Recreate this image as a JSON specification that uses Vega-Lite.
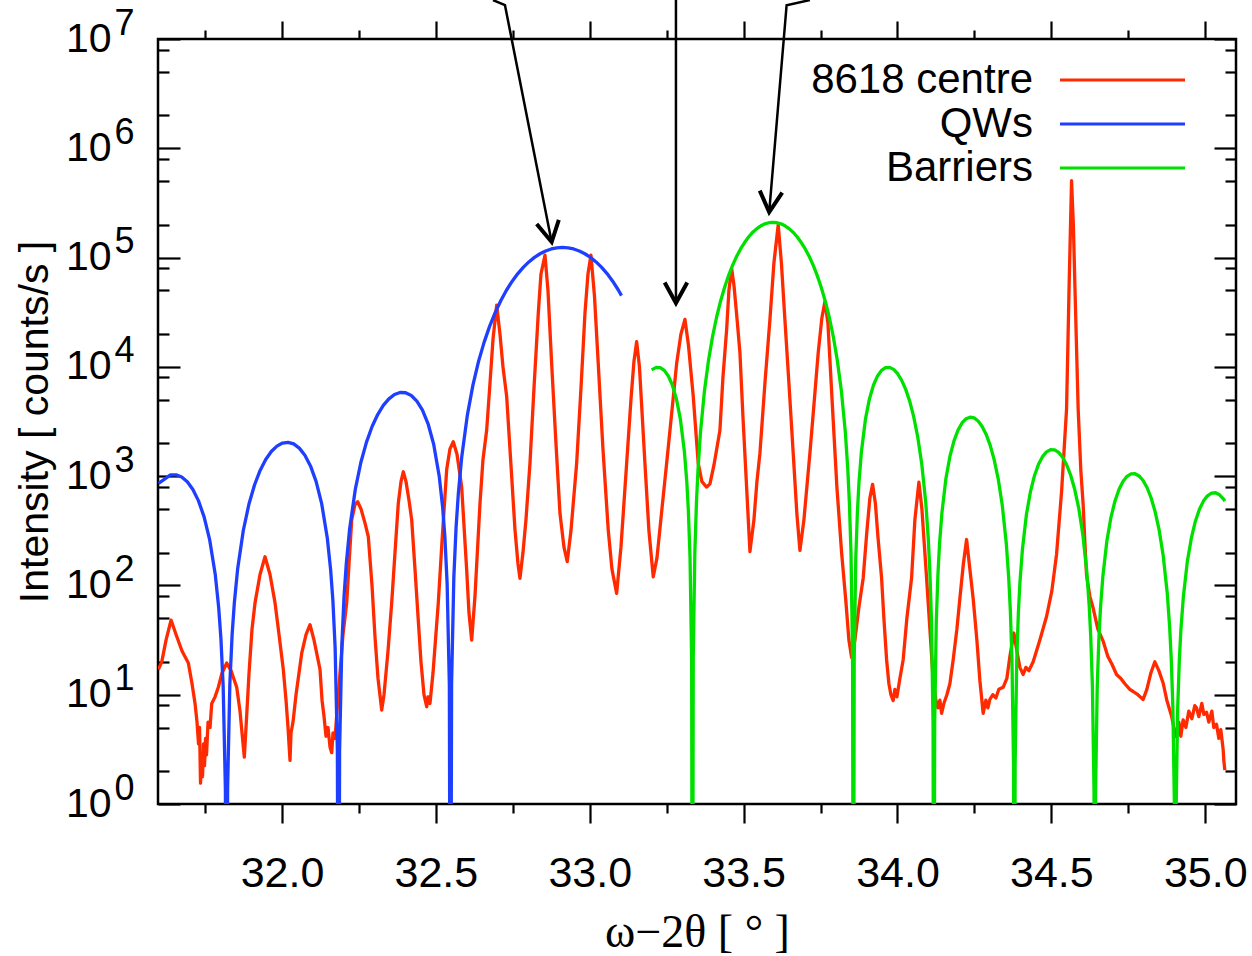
{
"$schema": "https://vega.github.io/schema/vega-lite/v6.json",
"autosize": {"type": "none"},
"width": 1078,
"height": 765,
"padding": {"left": 158, "top": 39, "right": 16, "bottom": 152},
"background": "white",
"datasets": {
"curves": [
{"x":31.598,"y":17.0,"s":"8618 centre"},{"x":31.6092,"y":20.0,"s":"8618 centre"},{"x":31.6231,"y":31.6,"s":"8618 centre"},{"x":31.6394,"y":48.2,"s":"8618 centre"},{"x":31.6556,"y":35.5,"s":"8618 centre"},{"x":31.6751,"y":25.1,"s":"8618 centre"},{"x":31.6956,"y":19.5,"s":"8618 centre"},{"x":31.7076,"y":12.6,"s":"8618 centre"},{"x":31.7173,"y":8.32,"s":"8618 centre"},{"x":31.7238,"y":5.62,"s":"8618 centre"},{"x":31.7287,"y":3.55,"s":"8618 centre"},{"x":31.732,"y":5.01,"s":"8618 centre"},{"x":31.7352,"y":1.55,"s":"8618 centre"},{"x":31.7385,"y":2.82,"s":"8618 centre"},{"x":31.7417,"y":1.78,"s":"8618 centre"},{"x":31.745,"y":3.55,"s":"8618 centre"},{"x":31.7482,"y":2.24,"s":"8618 centre"},{"x":31.7515,"y":3.98,"s":"8618 centre"},{"x":31.7547,"y":2.82,"s":"8618 centre"},{"x":31.7596,"y":5.62,"s":"8618 centre"},{"x":31.7661,"y":5.01,"s":"8618 centre"},{"x":31.7716,"y":8.32,"s":"8618 centre"},{"x":31.7823,"y":9.55,"s":"8618 centre"},{"x":31.793,"y":11.7,"s":"8618 centre"},{"x":31.8051,"y":15.8,"s":"8618 centre"},{"x":31.8203,"y":19.5,"s":"8618 centre"},{"x":31.8343,"y":16.6,"s":"8618 centre"},{"x":31.8528,"y":11.7,"s":"8618 centre"},{"x":31.8635,"y":7.08,"s":"8618 centre"},{"x":31.87,"y":4.47,"s":"8618 centre"},{"x":31.8775,"y":2.69,"s":"8618 centre"},{"x":31.883,"y":5.01,"s":"8618 centre"},{"x":31.8928,"y":15.8,"s":"8618 centre"},{"x":31.9025,"y":39.8,"s":"8618 centre"},{"x":31.9123,"y":69.2,"s":"8618 centre"},{"x":31.9285,"y":126,"s":"8618 centre"},{"x":31.9448,"y":183,"s":"8618 centre"},{"x":31.961,"y":126,"s":"8618 centre"},{"x":31.9773,"y":69.2,"s":"8618 centre"},{"x":31.9903,"y":35.5,"s":"8618 centre"},{"x":32.0042,"y":17.0,"s":"8618 centre"},{"x":32.013,"y":8.91,"s":"8618 centre"},{"x":32.0195,"y":5.01,"s":"8618 centre"},{"x":32.0227,"y":3.55,"s":"8618 centre"},{"x":32.026,"y":2.51,"s":"8618 centre"},{"x":32.0292,"y":4.47,"s":"8618 centre"},{"x":32.0357,"y":5.62,"s":"8618 centre"},{"x":32.0455,"y":10.0,"s":"8618 centre"},{"x":32.064,"y":24.0,"s":"8618 centre"},{"x":32.078,"y":35.5,"s":"8618 centre"},{"x":32.091,"y":43.7,"s":"8618 centre"},{"x":32.104,"y":31.6,"s":"8618 centre"},{"x":32.1235,"y":17.0,"s":"8618 centre"},{"x":32.13,"y":8.91,"s":"8618 centre"},{"x":32.1365,"y":6.31,"s":"8618 centre"},{"x":32.143,"y":4.17,"s":"8618 centre"},{"x":32.1495,"y":5.01,"s":"8618 centre"},{"x":32.156,"y":3.31,"s":"8618 centre"},{"x":32.1615,"y":2.95,"s":"8618 centre"},{"x":32.1657,"y":4.47,"s":"8618 centre"},{"x":32.1722,"y":3.98,"s":"8618 centre"},{"x":32.1787,"y":7.08,"s":"8618 centre"},{"x":32.1884,"y":15.8,"s":"8618 centre"},{"x":32.1982,"y":35.5,"s":"8618 centre"},{"x":32.2102,"y":69.2,"s":"8618 centre"},{"x":32.2177,"y":158,"s":"8618 centre"},{"x":32.2265,"y":398,"s":"8618 centre"},{"x":32.2372,"y":550,"s":"8618 centre"},{"x":32.2459,"y":583,"s":"8618 centre"},{"x":32.2567,"y":501,"s":"8618 centre"},{"x":32.2697,"y":372,"s":"8618 centre"},{"x":32.2804,"y":279,"s":"8618 centre"},{"x":32.2924,"y":100,"s":"8618 centre"},{"x":32.3021,"y":33.9,"s":"8618 centre"},{"x":32.3119,"y":14.1,"s":"8618 centre"},{"x":32.3239,"y":7.24,"s":"8618 centre"},{"x":32.3314,"y":10.0,"s":"8618 centre"},{"x":32.3444,"y":25.1,"s":"8618 centre"},{"x":32.3564,"y":69.2,"s":"8618 centre"},{"x":32.3671,"y":200,"s":"8618 centre"},{"x":32.3778,"y":562,"s":"8618 centre"},{"x":32.3866,"y":891,"s":"8618 centre"},{"x":32.3941,"y":1096,"s":"8618 centre"},{"x":32.4029,"y":891,"s":"8618 centre"},{"x":32.4126,"y":603,"s":"8618 centre"},{"x":32.4214,"y":398,"s":"8618 centre"},{"x":32.4321,"y":141,"s":"8618 centre"},{"x":32.4428,"y":47.9,"s":"8618 centre"},{"x":32.4516,"y":20.0,"s":"8618 centre"},{"x":32.4613,"y":10.0,"s":"8618 centre"},{"x":32.4701,"y":7.76,"s":"8618 centre"},{"x":32.4743,"y":9.55,"s":"8618 centre"},{"x":32.4808,"y":8.32,"s":"8618 centre"},{"x":32.4906,"y":15.8,"s":"8618 centre"},{"x":32.5078,"y":69.2,"s":"8618 centre"},{"x":32.5198,"y":251,"s":"8618 centre"},{"x":32.5351,"y":1148,"s":"8618 centre"},{"x":32.5458,"y":1778,"s":"8618 centre"},{"x":32.5565,"y":2065,"s":"8618 centre"},{"x":32.5686,"y":1585,"s":"8618 centre"},{"x":32.5838,"y":794,"s":"8618 centre"},{"x":32.5913,"y":355,"s":"8618 centre"},{"x":32.6001,"y":138,"s":"8618 centre"},{"x":32.6075,"y":56.2,"s":"8618 centre"},{"x":32.6163,"y":31.6,"s":"8618 centre"},{"x":32.627,"y":79.4,"s":"8618 centre"},{"x":32.6433,"y":562,"s":"8618 centre"},{"x":32.653,"y":1413,"s":"8618 centre"},{"x":32.665,"y":2630,"s":"8618 centre"},{"x":32.6758,"y":7079,"s":"8618 centre"},{"x":32.6855,"y":17780,"s":"8618 centre"},{"x":32.6975,"y":36730,"s":"8618 centre"},{"x":32.7083,"y":19950,"s":"8618 centre"},{"x":32.718,"y":10000,"s":"8618 centre"},{"x":32.73,"y":5370,"s":"8618 centre"},{"x":32.744,"y":1259,"s":"8618 centre"},{"x":32.757,"y":324,"s":"8618 centre"},{"x":32.7667,"y":158,"s":"8618 centre"},{"x":32.7732,"y":116,"s":"8618 centre"},{"x":32.783,"y":200,"s":"8618 centre"},{"x":32.7927,"y":398,"s":"8618 centre"},{"x":32.8057,"y":1309,"s":"8618 centre"},{"x":32.8187,"y":6310,"s":"8618 centre"},{"x":32.8327,"y":30900,"s":"8618 centre"},{"x":32.8415,"y":70790,"s":"8618 centre"},{"x":32.8545,"y":105400,"s":"8618 centre"},{"x":32.8642,"y":50120,"s":"8618 centre"},{"x":32.8762,"y":10720,"s":"8618 centre"},{"x":32.8902,"y":1995,"s":"8618 centre"},{"x":32.9032,"y":457,"s":"8618 centre"},{"x":32.9162,"y":224,"s":"8618 centre"},{"x":32.9269,"y":165,"s":"8618 centre"},{"x":32.9389,"y":316,"s":"8618 centre"},{"x":32.9574,"y":1309,"s":"8618 centre"},{"x":32.9714,"y":6310,"s":"8618 centre"},{"x":32.9844,"y":30900,"s":"8618 centre"},{"x":32.9942,"y":70790,"s":"8618 centre"},{"x":33.0039,"y":105400,"s":"8618 centre"},{"x":33.0153,"y":44670,"s":"8618 centre"},{"x":33.0276,"y":10720,"s":"8618 centre"},{"x":33.0429,"y":1778,"s":"8618 centre"},{"x":33.0601,"y":321,"s":"8618 centre"},{"x":33.0721,"y":141,"s":"8618 centre"},{"x":33.0874,"y":84.7,"s":"8618 centre"},{"x":33.1014,"y":224,"s":"8618 centre"},{"x":33.1199,"y":1309,"s":"8618 centre"},{"x":33.1339,"y":5012,"s":"8618 centre"},{"x":33.1436,"y":11220,"s":"8618 centre"},{"x":33.1524,"y":16980,"s":"8618 centre"},{"x":33.1615,"y":10000,"s":"8618 centre"},{"x":33.1696,"y":3981,"s":"8618 centre"},{"x":33.1793,"y":1309,"s":"8618 centre"},{"x":33.1923,"y":316,"s":"8618 centre"},{"x":33.2063,"y":120,"s":"8618 centre"},{"x":33.2183,"y":178,"s":"8618 centre"},{"x":33.2346,"y":501,"s":"8618 centre"},{"x":33.2498,"y":1309,"s":"8618 centre"},{"x":33.2671,"y":3981,"s":"8618 centre"},{"x":33.2823,"y":10720,"s":"8618 centre"},{"x":33.2963,"y":19950,"s":"8618 centre"},{"x":33.3093,"y":27230,"s":"8618 centre"},{"x":33.3207,"y":15850,"s":"8618 centre"},{"x":33.3363,"y":5370,"s":"8618 centre"},{"x":33.3525,"y":1309,"s":"8618 centre"},{"x":33.3645,"y":891,"s":"8618 centre"},{"x":33.3798,"y":794,"s":"8618 centre"},{"x":33.3905,"y":851,"s":"8618 centre"},{"x":33.4035,"y":1259,"s":"8618 centre"},{"x":33.423,"y":2630,"s":"8618 centre"},{"x":33.4327,"y":7943,"s":"8618 centre"},{"x":33.4448,"y":21880,"s":"8618 centre"},{"x":33.4522,"y":50120,"s":"8618 centre"},{"x":33.461,"y":79430,"s":"8618 centre"},{"x":33.4685,"y":56230,"s":"8618 centre"},{"x":33.4782,"y":28180,"s":"8618 centre"},{"x":33.488,"y":13490,"s":"8618 centre"},{"x":33.4977,"y":3548,"s":"8618 centre"},{"x":33.5097,"y":794,"s":"8618 centre"},{"x":33.5205,"y":204,"s":"8618 centre"},{"x":33.5335,"y":398,"s":"8618 centre"},{"x":33.5432,"y":891,"s":"8618 centre"},{"x":33.553,"y":1622,"s":"8618 centre"},{"x":33.5692,"y":7079,"s":"8618 centre"},{"x":33.5854,"y":26920,"s":"8618 centre"},{"x":33.5984,"y":89130,"s":"8618 centre"},{"x":33.6124,"y":199500,"s":"8618 centre"},{"x":33.6228,"y":89130,"s":"8618 centre"},{"x":33.6342,"y":26920,"s":"8618 centre"},{"x":33.6472,"y":7079,"s":"8618 centre"},{"x":33.6611,"y":1622,"s":"8618 centre"},{"x":33.6732,"y":447,"s":"8618 centre"},{"x":33.6829,"y":209,"s":"8618 centre"},{"x":33.6959,"y":398,"s":"8618 centre"},{"x":33.7154,"y":1622,"s":"8618 centre"},{"x":33.7284,"y":4467,"s":"8618 centre"},{"x":33.7424,"y":13490,"s":"8618 centre"},{"x":33.7544,"y":28180,"s":"8618 centre"},{"x":33.7641,"y":39450,"s":"8618 centre"},{"x":33.7739,"y":25120,"s":"8618 centre"},{"x":33.7911,"y":3236,"s":"8618 centre"},{"x":33.8031,"y":794,"s":"8618 centre"},{"x":33.8184,"y":200,"s":"8618 centre"},{"x":33.8324,"y":70.8,"s":"8618 centre"},{"x":33.8421,"y":31.6,"s":"8618 centre"},{"x":33.8509,"y":21.9,"s":"8618 centre"},{"x":33.8616,"y":31.6,"s":"8618 centre"},{"x":33.8746,"y":63.1,"s":"8618 centre"},{"x":33.8886,"y":117,"s":"8618 centre"},{"x":33.9006,"y":316,"s":"8618 centre"},{"x":33.9103,"y":631,"s":"8618 centre"},{"x":33.9191,"y":841,"s":"8618 centre"},{"x":33.9282,"y":562,"s":"8618 centre"},{"x":33.9363,"y":282,"s":"8618 centre"},{"x":33.9483,"y":117,"s":"8618 centre"},{"x":33.9558,"y":50.1,"s":"8618 centre"},{"x":33.9646,"y":20.9,"s":"8618 centre"},{"x":33.9721,"y":12.6,"s":"8618 centre"},{"x":33.9786,"y":10.0,"s":"8618 centre"},{"x":33.986,"y":8.83,"s":"8618 centre"},{"x":33.9916,"y":11.2,"s":"8618 centre"},{"x":33.9981,"y":9.55,"s":"8618 centre"},{"x":34.0078,"y":14.1,"s":"8618 centre"},{"x":34.0185,"y":20.9,"s":"8618 centre"},{"x":34.0305,"y":50.1,"s":"8618 centre"},{"x":34.0458,"y":117,"s":"8618 centre"},{"x":34.0565,"y":398,"s":"8618 centre"},{"x":34.0695,"y":883,"s":"8618 centre"},{"x":34.0793,"y":501,"s":"8618 centre"},{"x":34.0945,"y":117,"s":"8618 centre"},{"x":34.1053,"y":39.8,"s":"8618 centre"},{"x":34.116,"y":13.5,"s":"8618 centre"},{"x":34.1248,"y":8.91,"s":"8618 centre"},{"x":34.1313,"y":7.59,"s":"8618 centre"},{"x":34.1378,"y":8.91,"s":"8618 centre"},{"x":34.1433,"y":6.76,"s":"8618 centre"},{"x":34.1507,"y":8.32,"s":"8618 centre"},{"x":34.1605,"y":10.0,"s":"8618 centre"},{"x":34.1702,"y":12.6,"s":"8618 centre"},{"x":34.181,"y":20.9,"s":"8618 centre"},{"x":34.193,"y":39.8,"s":"8618 centre"},{"x":34.2027,"y":75.9,"s":"8618 centre"},{"x":34.2141,"y":158,"s":"8618 centre"},{"x":34.2245,"y":263,"s":"8618 centre"},{"x":34.2352,"y":141,"s":"8618 centre"},{"x":34.2459,"y":75.9,"s":"8618 centre"},{"x":34.258,"y":31.6,"s":"8618 centre"},{"x":34.2677,"y":13.5,"s":"8618 centre"},{"x":34.2784,"y":6.76,"s":"8618 centre"},{"x":34.2872,"y":8.91,"s":"8618 centre"},{"x":34.2937,"y":7.59,"s":"8618 centre"},{"x":34.3002,"y":9.06,"s":"8618 centre"},{"x":34.3099,"y":10.0,"s":"8618 centre"},{"x":34.3197,"y":9.33,"s":"8618 centre"},{"x":34.3294,"y":11.2,"s":"8618 centre"},{"x":34.3434,"y":11.7,"s":"8618 centre"},{"x":34.3554,"y":14.1,"s":"8618 centre"},{"x":34.3652,"y":22.4,"s":"8618 centre"},{"x":34.3782,"y":36.7,"s":"8618 centre"},{"x":34.3879,"y":25.1,"s":"8618 centre"},{"x":34.3977,"y":17.8,"s":"8618 centre"},{"x":34.4084,"y":15.3,"s":"8618 centre"},{"x":34.4172,"y":17.8,"s":"8618 centre"},{"x":34.4269,"y":16.6,"s":"8618 centre"},{"x":34.4409,"y":20.0,"s":"8618 centre"},{"x":34.4626,"y":31.6,"s":"8618 centre"},{"x":34.4844,"y":52.0,"s":"8618 centre"},{"x":34.5016,"y":89.1,"s":"8618 centre"},{"x":34.5169,"y":193,"s":"8618 centre"},{"x":34.5331,"y":716,"s":"8618 centre"},{"x":34.5494,"y":4111,"s":"8618 centre"},{"x":34.5578,"y":56620,"s":"8618 centre"},{"x":34.5656,"y":504700,"s":"8618 centre"},{"x":34.5715,"y":199500,"s":"8618 centre"},{"x":34.5764,"y":56620,"s":"8618 centre"},{"x":34.5871,"y":4111,"s":"8618 centre"},{"x":34.5958,"y":1122,"s":"8618 centre"},{"x":34.6033,"y":551,"s":"8618 centre"},{"x":34.6088,"y":251,"s":"8618 centre"},{"x":34.6144,"y":124,"s":"8618 centre"},{"x":34.6251,"y":79.4,"s":"8618 centre"},{"x":34.6358,"y":62.1,"s":"8618 centre"},{"x":34.6511,"y":39.8,"s":"8618 centre"},{"x":34.6683,"y":30.9,"s":"8618 centre"},{"x":34.6836,"y":22.4,"s":"8618 centre"},{"x":34.6966,"y":19.1,"s":"8618 centre"},{"x":34.7118,"y":15.3,"s":"8618 centre"},{"x":34.7258,"y":14.1,"s":"8618 centre"},{"x":34.7388,"y":12.6,"s":"8618 centre"},{"x":34.755,"y":11.2,"s":"8618 centre"},{"x":34.7658,"y":10.7,"s":"8618 centre"},{"x":34.781,"y":10.0,"s":"8618 centre"},{"x":34.7983,"y":9.06,"s":"8618 centre"},{"x":34.8103,"y":11.2,"s":"8618 centre"},{"x":34.8233,"y":15.8,"s":"8618 centre"},{"x":34.8363,"y":20.0,"s":"8618 centre"},{"x":34.8493,"y":16.6,"s":"8618 centre"},{"x":34.8632,"y":12.8,"s":"8618 centre"},{"x":34.8752,"y":8.91,"s":"8618 centre"},{"x":34.8905,"y":6.38,"s":"8618 centre"},{"x":34.898,"y":5.01,"s":"8618 centre"},{"x":34.9068,"y":4.12,"s":"8618 centre"},{"x":34.9142,"y":5.62,"s":"8618 centre"},{"x":34.9207,"y":4.17,"s":"8618 centre"},{"x":34.9282,"y":5.89,"s":"8618 centre"},{"x":34.937,"y":5.01,"s":"8618 centre"},{"x":34.9467,"y":7.08,"s":"8618 centre"},{"x":34.9565,"y":6.03,"s":"8618 centre"},{"x":34.9662,"y":7.94,"s":"8618 centre"},{"x":34.9717,"y":7.59,"s":"8618 centre"},{"x":34.9792,"y":6.31,"s":"8618 centre"},{"x":34.989,"y":8.32,"s":"8618 centre"},{"x":34.9955,"y":6.61,"s":"8618 centre"},{"x":35.0042,"y":6.92,"s":"8618 centre"},{"x":35.0117,"y":5.62,"s":"8618 centre"},{"x":35.0214,"y":7.08,"s":"8618 centre"},{"x":35.0279,"y":5.01,"s":"8618 centre"},{"x":35.0367,"y":5.37,"s":"8618 centre"},{"x":35.0442,"y":3.98,"s":"8618 centre"},{"x":35.0507,"y":4.79,"s":"8618 centre"},{"x":35.0582,"y":3.16,"s":"8618 centre"},{"x":35.0604,"y":2.51,"s":"8618 centre"},{"x":35.0637,"y":2.04,"s":"8618 centre"},
{"x":31.5987,"y":859,"s":"QWs"},{"x":31.6376,"y":1025,"s":"QWs"},{"x":31.6558,"y":1028,"s":"QWs"},{"x":31.674,"y":982,"s":"QWs"},{"x":31.6922,"y":888,"s":"QWs"},{"x":31.7104,"y":755,"s":"QWs"},{"x":31.7286,"y":594,"s":"QWs"},{"x":31.7468,"y":424,"s":"QWs"},{"x":31.765,"y":261,"s":"QWs"},{"x":31.7832,"y":125,"s":"QWs"},{"x":31.7941,"y":63.4,"s":"QWs"},{"x":31.8014,"y":33.0,"s":"QWs"},{"x":31.8087,"y":12.1,"s":"QWs"},{"x":31.816,"y":1.37,"s":"QWs"},{"x":31.8196,"y":0.001,"s":"QWs"},{"x":31.8232,"y":1.39,"s":"QWs"},{"x":31.8305,"y":12.6,"s":"QWs"},{"x":31.8378,"y":35.3,"s":"QWs"},{"x":31.8451,"y":69.6,"s":"QWs"},{"x":31.856,"y":143,"s":"QWs"},{"x":31.8742,"y":318,"s":"QWs"},{"x":31.8924,"y":553,"s":"QWs"},{"x":31.9106,"y":830,"s":"QWs"},{"x":31.9288,"y":1127,"s":"QWs"},{"x":31.947,"y":1419,"s":"QWs"},{"x":31.9652,"y":1679,"s":"QWs"},{"x":31.9834,"y":1884,"s":"QWs"},{"x":32.0015,"y":2009,"s":"QWs"},{"x":32.0197,"y":2040,"s":"QWs"},{"x":32.0379,"y":1972,"s":"QWs"},{"x":32.0561,"y":1804,"s":"QWs"},{"x":32.0743,"y":1553,"s":"QWs"},{"x":32.0925,"y":1240,"s":"QWs"},{"x":32.1107,"y":896,"s":"QWs"},{"x":32.1289,"y":560,"s":"QWs"},{"x":32.1471,"y":272,"s":"QWs"},{"x":32.158,"y":139,"s":"QWs"},{"x":32.1653,"y":73.1,"s":"QWs"},{"x":32.1726,"y":27.0,"s":"QWs"},{"x":32.1799,"y":3.07,"s":"QWs"},{"x":32.1835,"y":0.001,"s":"QWs"},{"x":32.1871,"y":3.13,"s":"QWs"},{"x":32.1944,"y":28.6,"s":"QWs"},{"x":32.2017,"y":80.8,"s":"QWs"},{"x":32.209,"y":160,"s":"QWs"},{"x":32.2199,"y":332,"s":"QWs"},{"x":32.2381,"y":756,"s":"QWs"},{"x":32.2563,"y":1339,"s":"QWs"},{"x":32.2745,"y":2049,"s":"QWs"},{"x":32.2927,"y":2844,"s":"QWs"},{"x":32.3109,"y":3661,"s":"QWs"},{"x":32.3291,"y":4436,"s":"QWs"},{"x":32.3473,"y":5097,"s":"QWs"},{"x":32.3654,"y":5585,"s":"QWs"},{"x":32.3836,"y":5825,"s":"QWs"},{"x":32.4018,"y":5794,"s":"QWs"},{"x":32.42,"y":5470,"s":"QWs"},{"x":32.4382,"y":4864,"s":"QWs"},{"x":32.4564,"y":4018,"s":"QWs"},{"x":32.4746,"y":3013,"s":"QWs"},{"x":32.4928,"y":1956,"s":"QWs"},{"x":32.511,"y":991,"s":"QWs"},{"x":32.5219,"y":522,"s":"QWs"},{"x":32.5292,"y":279,"s":"QWs"},{"x":32.5365,"y":105,"s":"QWs"},{"x":32.5438,"y":12.1,"s":"QWs"},{"x":32.5474,"y":0.001,"s":"QWs"},{"x":32.551,"y":12.6,"s":"QWs"},{"x":32.5583,"y":118,"s":"QWs"},{"x":32.5656,"y":340,"s":"QWs"},{"x":32.5729,"y":690,"s":"QWs"},{"x":32.5838,"y":1479,"s":"QWs"},{"x":32.602,"y":3581,"s":"QWs"},{"x":32.6202,"y":6776,"s":"QWs"},{"x":32.6384,"y":11160,"s":"QWs"},{"x":32.6566,"y":16760,"s":"QWs"},{"x":32.6748,"y":23590,"s":"QWs"},{"x":32.693,"y":31540,"s":"QWs"},{"x":32.7112,"y":40460,"s":"QWs"},{"x":32.7293,"y":50230,"s":"QWs"},{"x":32.7475,"y":60530,"s":"QWs"},{"x":32.7657,"y":70970,"s":"QWs"},{"x":32.7839,"y":81280,"s":"QWs"},{"x":32.8021,"y":91260,"s":"QWs"},{"x":32.8203,"y":100400,"s":"QWs"},{"x":32.8385,"y":108400,"s":"QWs"},{"x":32.8567,"y":115000,"s":"QWs"},{"x":32.8749,"y":119900,"s":"QWs"},{"x":32.8931,"y":122800,"s":"QWs"},{"x":32.9113,"y":123900,"s":"QWs"},{"x":32.9295,"y":122800,"s":"QWs"},{"x":32.9477,"y":119900,"s":"QWs"},{"x":32.9659,"y":115000,"s":"QWs"},{"x":32.9841,"y":108400,"s":"QWs"},{"x":33.0023,"y":100400,"s":"QWs"},{"x":33.0205,"y":91260,"s":"QWs"},{"x":33.0387,"y":81280,"s":"QWs"},{"x":33.0569,"y":70970,"s":"QWs"},{"x":33.0751,"y":60530,"s":"QWs"},{"x":33.0933,"y":50230,"s":"QWs"},{"x":33.1031,"y":44900,"s":"QWs"},
{"x":33.2011,"y":9380,"s":"Barriers"},{"x":33.216,"y":9890,"s":"Barriers"},{"x":33.2291,"y":9840,"s":"Barriers"},{"x":33.2422,"y":9290,"s":"Barriers"},{"x":33.2552,"y":8260,"s":"Barriers"},{"x":33.2683,"y":6820,"s":"Barriers"},{"x":33.2814,"y":5117,"s":"Barriers"},{"x":33.2945,"y":3320,"s":"Barriers"},{"x":33.3075,"y":1683,"s":"Barriers"},{"x":33.3154,"y":886,"s":"Barriers"},{"x":33.3206,"y":473,"s":"Barriers"},{"x":33.3259,"y":178,"s":"Barriers"},{"x":33.3311,"y":20.6,"s":"Barriers"},{"x":33.3337,"y":0.001,"s":"Barriers"},{"x":33.3363,"y":21.5,"s":"Barriers"},{"x":33.3415,"y":200,"s":"Barriers"},{"x":33.3468,"y":578,"s":"Barriers"},{"x":33.352,"y":1173,"s":"Barriers"},{"x":33.3598,"y":2512,"s":"Barriers"},{"x":33.3729,"y":6081,"s":"Barriers"},{"x":33.386,"y":11510,"s":"Barriers"},{"x":33.3991,"y":18950,"s":"Barriers"},{"x":33.4121,"y":28440,"s":"Barriers"},{"x":33.4252,"y":40090,"s":"Barriers"},{"x":33.4383,"y":53580,"s":"Barriers"},{"x":33.4514,"y":68710,"s":"Barriers"},{"x":33.4644,"y":85310,"s":"Barriers"},{"x":33.4775,"y":102800,"s":"Barriers"},{"x":33.4906,"y":120500,"s":"Barriers"},{"x":33.5037,"y":138000,"s":"Barriers"},{"x":33.5167,"y":155000,"s":"Barriers"},{"x":33.5298,"y":170600,"s":"Barriers"},{"x":33.5429,"y":184100,"s":"Barriers"},{"x":33.556,"y":195400,"s":"Barriers"},{"x":33.569,"y":203700,"s":"Barriers"},{"x":33.5821,"y":208400,"s":"Barriers"},{"x":33.5952,"y":210400,"s":"Barriers"},{"x":33.6083,"y":208400,"s":"Barriers"},{"x":33.6214,"y":203700,"s":"Barriers"},{"x":33.6344,"y":195400,"s":"Barriers"},{"x":33.6475,"y":184100,"s":"Barriers"},{"x":33.6606,"y":170600,"s":"Barriers"},{"x":33.6737,"y":155000,"s":"Barriers"},{"x":33.6867,"y":138000,"s":"Barriers"},{"x":33.6998,"y":120500,"s":"Barriers"},{"x":33.7129,"y":102800,"s":"Barriers"},{"x":33.726,"y":85310,"s":"Barriers"},{"x":33.739,"y":68710,"s":"Barriers"},{"x":33.7521,"y":53580,"s":"Barriers"},{"x":33.7652,"y":40090,"s":"Barriers"},{"x":33.7783,"y":28440,"s":"Barriers"},{"x":33.7913,"y":18950,"s":"Barriers"},{"x":33.8044,"y":11510,"s":"Barriers"},{"x":33.8175,"y":6081,"s":"Barriers"},{"x":33.8306,"y":2512,"s":"Barriers"},{"x":33.8384,"y":1173,"s":"Barriers"},{"x":33.8436,"y":578,"s":"Barriers"},{"x":33.8489,"y":200,"s":"Barriers"},{"x":33.8541,"y":21.5,"s":"Barriers"},{"x":33.8567,"y":0.001,"s":"Barriers"},{"x":33.8593,"y":20.6,"s":"Barriers"},{"x":33.8645,"y":178,"s":"Barriers"},{"x":33.8698,"y":473,"s":"Barriers"},{"x":33.875,"y":886,"s":"Barriers"},{"x":33.8829,"y":1683,"s":"Barriers"},{"x":33.8959,"y":3320,"s":"Barriers"},{"x":33.909,"y":5117,"s":"Barriers"},{"x":33.9221,"y":6820,"s":"Barriers"},{"x":33.9352,"y":8260,"s":"Barriers"},{"x":33.9482,"y":9290,"s":"Barriers"},{"x":33.9613,"y":9840,"s":"Barriers"},{"x":33.9744,"y":9890,"s":"Barriers"},{"x":33.9875,"y":9480,"s":"Barriers"},{"x":34.0005,"y":8650,"s":"Barriers"},{"x":34.0136,"y":7534,"s":"Barriers"},{"x":34.0267,"y":6220,"s":"Barriers"},{"x":34.0398,"y":4831,"s":"Barriers"},{"x":34.0528,"y":3480,"s":"Barriers"},{"x":34.0659,"y":2274,"s":"Barriers"},{"x":34.079,"y":1285,"s":"Barriers"},{"x":34.0921,"y":564,"s":"Barriers"},{"x":34.0999,"y":272,"s":"Barriers"},{"x":34.1051,"y":137,"s":"Barriers"},{"x":34.1104,"y":48.6,"s":"Barriers"},{"x":34.1156,"y":5.31,"s":"Barriers"},{"x":34.1182,"y":0.001,"s":"Barriers"},{"x":34.1208,"y":5.21,"s":"Barriers"},{"x":34.126,"y":45.8,"s":"Barriers"},{"x":34.1313,"y":124,"s":"Barriers"},{"x":34.1365,"y":237,"s":"Barriers"},{"x":34.1444,"y":461,"s":"Barriers"},{"x":34.1574,"y":951,"s":"Barriers"},{"x":34.1705,"y":1521,"s":"Barriers"},{"x":34.1836,"y":2105,"s":"Barriers"},{"x":34.1967,"y":2636,"s":"Barriers"},{"x":34.2097,"y":3065,"s":"Barriers"},{"x":34.2228,"y":3350,"s":"Barriers"},{"x":34.2359,"y":3465,"s":"Barriers"},{"x":34.249,"y":3412,"s":"Barriers"},{"x":34.262,"y":3198,"s":"Barriers"},{"x":34.2751,"y":2851,"s":"Barriers"},{"x":34.2882,"y":2410,"s":"Barriers"},{"x":34.3013,"y":1914,"s":"Barriers"},{"x":34.3143,"y":1409,"s":"Barriers"},{"x":34.3274,"y":940,"s":"Barriers"},{"x":34.3405,"y":541,"s":"Barriers"},{"x":34.3536,"y":242,"s":"Barriers"},{"x":34.3614,"y":118,"s":"Barriers"},{"x":34.3666,"y":60.0,"s":"Barriers"},{"x":34.3719,"y":21.4,"s":"Barriers"},{"x":34.3771,"y":2.35,"s":"Barriers"},{"x":34.3797,"y":0.001,"s":"Barriers"},{"x":34.3823,"y":2.32,"s":"Barriers"},{"x":34.3875,"y":20.6,"s":"Barriers"},{"x":34.3928,"y":56.1,"s":"Barriers"},{"x":34.398,"y":108,"s":"Barriers"},{"x":34.4059,"y":212,"s":"Barriers"},{"x":34.4189,"y":443,"s":"Barriers"},{"x":34.432,"y":719,"s":"Barriers"},{"x":34.4451,"y":1009,"s":"Barriers"},{"x":34.4582,"y":1282,"s":"Barriers"},{"x":34.4712,"y":1508,"s":"Barriers"},{"x":34.4843,"y":1667,"s":"Barriers"},{"x":34.4974,"y":1746,"s":"Barriers"},{"x":34.5105,"y":1742,"s":"Barriers"},{"x":34.5235,"y":1649,"s":"Barriers"},{"x":34.5366,"y":1489,"s":"Barriers"},{"x":34.5497,"y":1270,"s":"Barriers"},{"x":34.5628,"y":1019,"s":"Barriers"},{"x":34.5758,"y":758,"s":"Barriers"},{"x":34.5889,"y":510,"s":"Barriers"},{"x":34.602,"y":296,"s":"Barriers"},{"x":34.6151,"y":134,"s":"Barriers"},{"x":34.6229,"y":65.7,"s":"Barriers"},{"x":34.6281,"y":33.4,"s":"Barriers"},{"x":34.6334,"y":12.0,"s":"Barriers"},{"x":34.6386,"y":1.32,"s":"Barriers"},{"x":34.6412,"y":0.001,"s":"Barriers"},{"x":34.6438,"y":1.31,"s":"Barriers"},{"x":34.649,"y":11.6,"s":"Barriers"},{"x":34.6543,"y":31.8,"s":"Barriers"},{"x":34.6595,"y":61.2,"s":"Barriers"},{"x":34.6674,"y":121,"s":"Barriers"},{"x":34.6804,"y":255,"s":"Barriers"},{"x":34.6935,"y":418,"s":"Barriers"},{"x":34.7066,"y":590,"s":"Barriers"},{"x":34.7197,"y":755,"s":"Barriers"},{"x":34.7327,"y":895,"s":"Barriers"},{"x":34.7458,"y":996,"s":"Barriers"},{"x":34.7589,"y":1050,"s":"Barriers"},{"x":34.772,"y":1052,"s":"Barriers"},{"x":34.785,"y":1004,"s":"Barriers"},{"x":34.7981,"y":912,"s":"Barriers"},{"x":34.8112,"y":783,"s":"Barriers"},{"x":34.8243,"y":631,"s":"Barriers"},{"x":34.8373,"y":472,"s":"Barriers"},{"x":34.8504,"y":320,"s":"Barriers"},{"x":34.8635,"y":187,"s":"Barriers"},{"x":34.8766,"y":84.8,"s":"Barriers"},{"x":34.8844,"y":41.8,"s":"Barriers"},{"x":34.8896,"y":21.3,"s":"Barriers"},{"x":34.8949,"y":7.65,"s":"Barriers"},{"x":34.9001,"y":0.85,"s":"Barriers"},{"x":34.9027,"y":0.001,"s":"Barriers"},{"x":34.9053,"y":0.84,"s":"Barriers"},{"x":34.9105,"y":7.46,"s":"Barriers"},{"x":34.9158,"y":20.5,"s":"Barriers"},{"x":34.921,"y":39.5,"s":"Barriers"},{"x":34.9289,"y":78.3,"s":"Barriers"},{"x":34.9419,"y":166,"s":"Barriers"},{"x":34.955,"y":272,"s":"Barriers"},{"x":34.9681,"y":387,"s":"Barriers"},{"x":34.9812,"y":497,"s":"Barriers"},{"x":34.9942,"y":591,"s":"Barriers"},{"x":35.0073,"y":661,"s":"Barriers"},{"x":35.0204,"y":700,"s":"Barriers"},{"x":35.0335,"y":705,"s":"Barriers"},{"x":35.0465,"y":675,"s":"Barriers"},{"x":35.0596,"y":615,"s":"Barriers"},{"x":35.0638,"y":590,"s":"Barriers"}
],
"arrows": [
{"id":"a","x":32.6855,"y":22700000},{"id":"a","x":32.7245,"y":20400000},{"id":"a","x":32.8762,"y":138700},
{"id":"b","x":33.2801,"y":22700000},{"id":"b","x":33.2801,"y":38400},
{"id":"c","x":33.5831,"y":261000},{"id":"c","x":33.6397,"y":20400000},{"id":"c","x":33.7154,"y":22700000}
],
"tips": [
{"id":"a","x":32.8762,"y":138700},{"id":"b","x":33.2801,"y":38400},{"id":"c","x":33.5831,"y":261000}
],
"anchor": [{"x":33,"y":10}]
},
"layer": [
{
"data": {"name": "curves"},
"mark": {"type": "line", "strokeWidth": 3.3, "strokeJoin": "round", "clip": true},
"encoding": {
"x": {"field": "x", "type": "quantitative", "scale": {"domain": [31.597, 35.1], "nice": false, "zero": false},
"axis": {"orient": "bottom", "values": [32, 32.5, 33, 33.5, 34, 34.5, 35], "format": ".1f", "ticks": false, "labelPadding": 48, "labelFontSize": 43, "labelBaseline": "top",
"title": "ω−2θ [ ° ]", "titleFont": "Liberation Serif", "titleFontSize": 46, "titleFontWeight": "normal", "titleX": 539, "titleY": 128, "titleAlign": "center", "titleBaseline": "middle"}},
"y": {"field": "y", "type": "quantitative", "scale": {"type": "log", "domain": [1, 10000000], "nice": false},
"axis": {"orient": "left", "values": [1, 10, 100, 1000, 10000, 100000, 1000000, 10000000], "labelExpr": "'10'", "ticks": false, "labelPadding": 47, "labelAlign": "right", "labelBaseline": "middle", "labelFontSize": 41,
"title": "Intensity [ counts/s ]", "titleFontSize": 41, "titleFontWeight": "normal", "titleX": -123, "titleY": 382.5, "titleAngle": -90, "titleAlign": "center", "titleBaseline": "middle"}},
"color": {"field": "s", "type": "nominal", "scale": {"domain": ["8618 centre", "QWs", "Barriers"], "range": ["#ff2a00", "#1f3fff", "#00e000"]},
"legend": {"orient": "none", "legendX": 941.5, "legendY": 18, "title": null, "symbolType": "M-2.907,0L2.907,0", "symbolSize": 1849, "symbolStrokeWidth": 3, "labelFontSize": 42, "labelAlign": "right", "labelOffset": -112.5, "rowPadding": 0, "padding": 0, "labelLimit": 1000}}
}
},
{
"data": {"name": "arrows"},
"mark": {"type": "line", "color": "black", "strokeWidth": 2.5, "clip": false},
"encoding": {
"x": {"field": "x", "type": "quantitative", "scale": {"domain": [31.597, 35.1], "nice": false, "zero": false}, "axis": null},
"y": {"field": "y", "type": "quantitative", "scale": {"type": "log", "domain": [1, 10000000], "nice": false}, "axis": null},
"detail": {"field": "id"}
}
},
{
"data": {"name": "tips"},
"transform": [{"filter": "datum.id == 'a'"}],
"mark": {"type": "point", "shape": "M-0.55,-1L0,0L0.55,-1", "filled": false, "stroke": "black", "strokeWidth": 4, "size": 1681, "angle": -11, "opacity": 1, "clip": false},
"encoding": {
"x": {"field": "x", "type": "quantitative", "scale": {"domain": [31.597, 35.1], "nice": false, "zero": false}, "axis": null},
"y": {"field": "y", "type": "quantitative", "scale": {"type": "log", "domain": [1, 10000000], "nice": false}, "axis": null}
}
},
{
"data": {"name": "tips"},
"transform": [{"filter": "datum.id == 'b'"}],
"mark": {"type": "point", "shape": "M-0.55,-1L0,0L0.55,-1", "filled": false, "stroke": "black", "strokeWidth": 4, "size": 1681, "angle": 0, "opacity": 1, "clip": false},
"encoding": {
"x": {"field": "x", "type": "quantitative", "scale": {"domain": [31.597, 35.1], "nice": false, "zero": false}, "axis": null},
"y": {"field": "y", "type": "quantitative", "scale": {"type": "log", "domain": [1, 10000000], "nice": false}, "axis": null}
}
},
{
"data": {"name": "tips"},
"transform": [{"filter": "datum.id == 'c'"}],
"mark": {"type": "point", "shape": "M-0.55,-1L0,0L0.55,-1", "filled": false, "stroke": "black", "strokeWidth": 4, "size": 1681, "angle": 5, "opacity": 1, "clip": false},
"encoding": {
"x": {"field": "x", "type": "quantitative", "scale": {"domain": [31.597, 35.1], "nice": false, "zero": false}, "axis": null},
"y": {"field": "y", "type": "quantitative", "scale": {"type": "log", "domain": [1, 10000000], "nice": false}, "axis": null}
}
},
{
"data": {"name": "anchor"},
"mark": {"type": "point", "opacity": 0},
"encoding": {
"x": {"field": "x", "type": "quantitative", "scale": {"domain": [31.597, 35.1], "nice": false, "zero": false},
"axis": {"orient": "bottom", "values": [31.75, 32, 32.25, 32.5, 32.75, 33, 33.25, 33.5, 33.75, 34, 34.25, 34.5, 34.75, 35], "labels": false, "title": null,
"tickSize": {"condition": {"test": "datum.value % 0.5 == 0", "value": 19}, "value": 9}}},
"y": {"field": "y", "type": "quantitative", "scale": {"type": "log", "domain": [1, 10000000], "nice": false},
"axis": {"orient": "left", "values": [1, 10, 100, 1000, 10000, 100000, 1000000, 10000000], "labelExpr": "format(round(log(datum.value)/LN10), 'd')", "ticks": false, "labelPadding": 44, "labelAlign": "left", "labelBaseline": "middle", "labelOffset": -16, "labelFontSize": 36, "title": null}}
}
},
{
"data": {"name": "anchor"},
"mark": {"type": "point", "opacity": 0},
"encoding": {
"x": {"field": "x", "type": "quantitative", "scale": {"domain": [31.597, 35.1], "nice": false, "zero": false},
"axis": {"orient": "top", "values": [31.75, 32, 32.25, 32.5, 32.75, 33, 33.25, 33.5, 33.75, 34, 34.25, 34.5, 34.75, 35], "labels": false, "title": null,
"tickSize": {"condition": {"test": "datum.value % 0.5 == 0", "value": 18}, "value": 9}}},
"y": {"field": "y", "type": "quantitative", "scale": {"type": "log", "domain": [1, 10000000], "nice": false},
"axis": {"orient": "left", "values": [1, 2, 5, 8, 10, 20, 50, 80, 100, 200, 500, 800, 1000, 2000, 5000, 8000, 10000, 20000, 50000, 80000, 100000, 200000, 500000, 800000, 1000000, 2000000, 5000000, 8000000, 10000000], "labels": false, "title": null,
"tickSize": {"condition": {"test": "indexof([1,10,100,1000,10000,100000,1000000,10000000], datum.value) >= 0", "value": -22}, "value": -11}}}
}
},
{
"data": {"name": "anchor"},
"mark": {"type": "point", "opacity": 0},
"encoding": {
"x": {"field": "x", "type": "quantitative", "scale": {"domain": [31.597, 35.1], "nice": false, "zero": false}, "axis": null},
"y": {"field": "y", "type": "quantitative", "scale": {"type": "log", "domain": [1, 10000000], "nice": false},
"axis": {"orient": "right", "values": [1, 2, 5, 8, 10, 20, 50, 80, 100, 200, 500, 800, 1000, 2000, 5000, 8000, 10000, 20000, 50000, 80000, 100000, 200000, 500000, 800000, 1000000, 2000000, 5000000, 8000000, 10000000], "labels": false, "title": null,
"tickSize": {"condition": {"test": "indexof([1,10,100,1000,10000,100000,1000000,10000000], datum.value) >= 0", "value": -22}, "value": -11}}}
}
}
],
"resolve": {"axis": {"x": "independent", "y": "independent"}},
"config": {
"font": "Liberation Sans",
"view": {"stroke": "black", "strokeWidth": 2.5},
"axis": {"domain": false, "grid": false, "tickColor": "black", "tickWidth": 2.2, "labelColor": "black", "labelFont": "Liberation Sans", "titleColor": "black", "titleFont": "Liberation Sans", "titleFontWeight": "normal", "labelFlush": false, "labelOverlap": false, "labelBound": false},
"legend": {"labelFont": "Liberation Sans", "labelColor": "black"}
}
}
